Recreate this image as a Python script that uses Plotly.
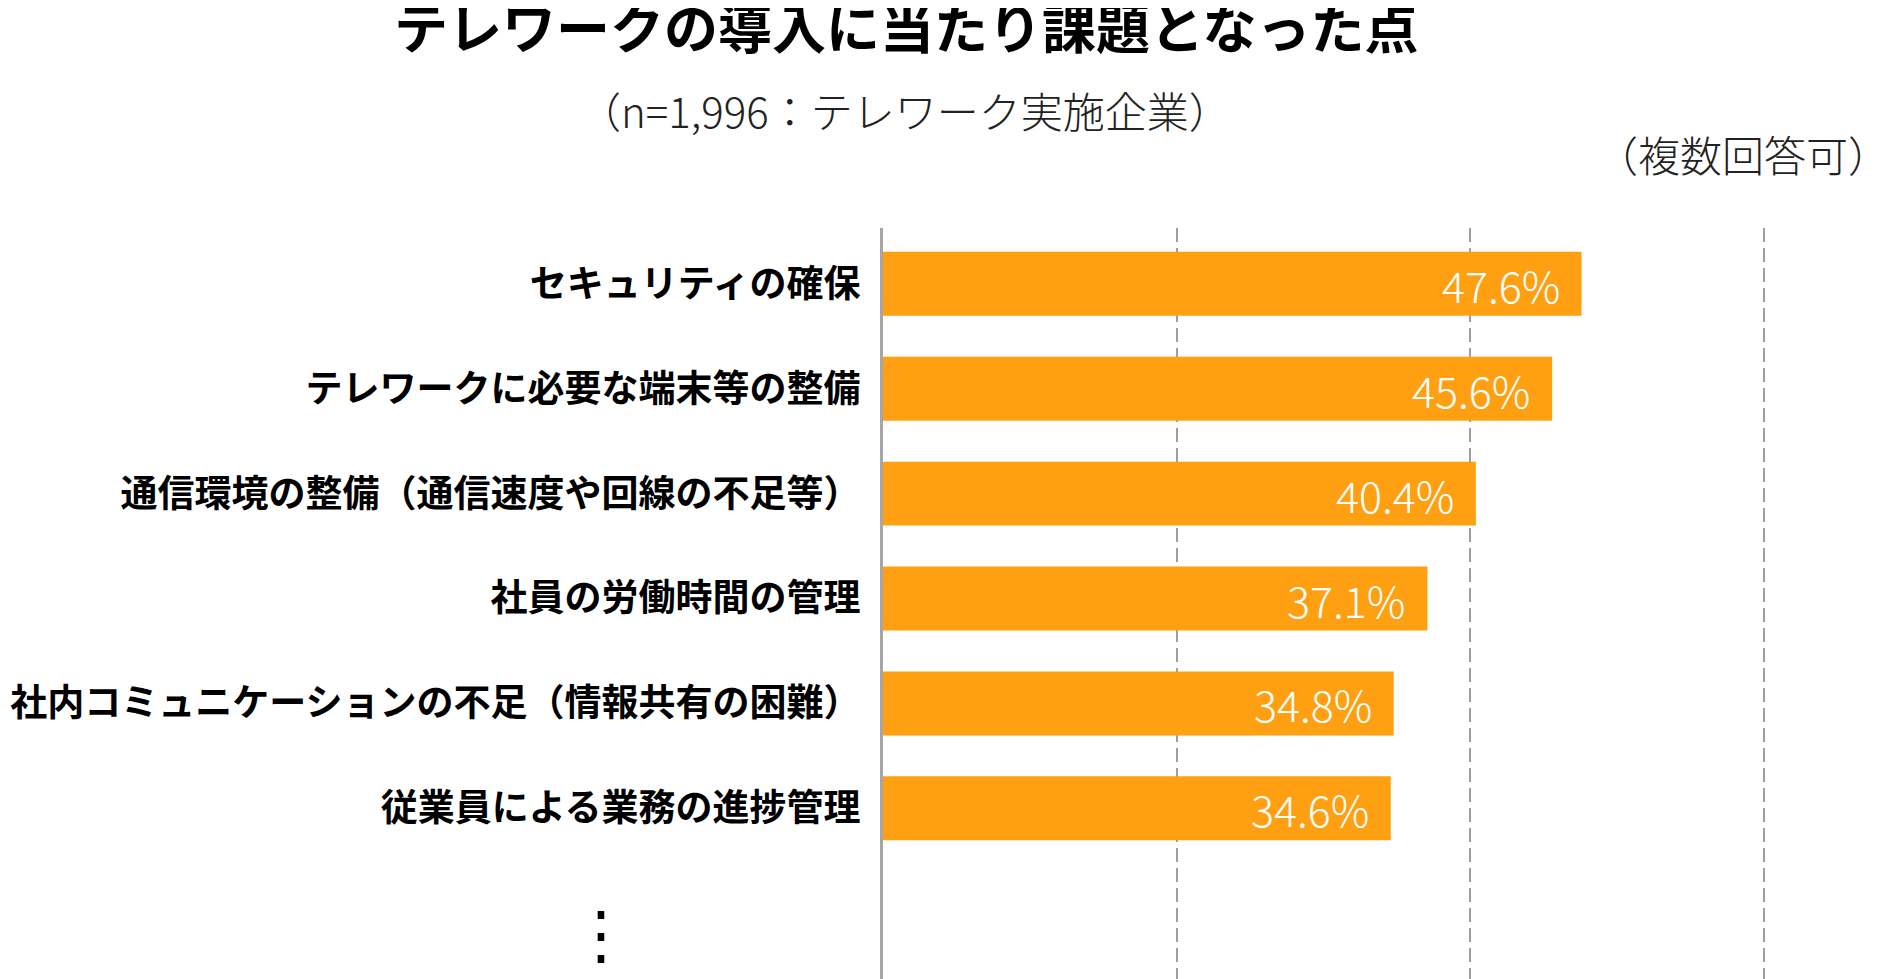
import plotly.graph_objects as go

labels = [
    "セキュリティの確保",
    "テレワークに必要な端末等の整備",
    "通信環境の整備（通信速度や回線の不足等）",
    "社員の労働時間の管理",
    "社内コミュニケーションの不足（情報共有の困難）",
    "従業員による業務の進捗管理",
]
values = [47.6, 45.6, 40.4, 37.1, 34.8, 34.6]
value_text = ["47.6%", "45.6%", "40.4%", "37.1%", "34.8%", "34.6%"]

# page has an 8px body margin, so figure coords are page coords - 8
W, H = 1878, 979
L, T = 875, 220
pw, ph = W - L, H - T


def px(x):
    return (x - L) / pw


def py(y):
    return (H - y) / ph


font = "Noto Sans CJK JP"
pos = list(range(len(labels)))

fig = go.Figure()
fig.add_trace(go.Bar(
    x=values, y=pos, orientation="h", width=0.61,
    marker=dict(color="#fea012", line=dict(width=0)),
    hoverinfo="skip",
))

ann = []
for i, v in enumerate(values):
    ann.append(dict(x=v, y=i, xref="x", yref="y", text=value_text[i], showarrow=False,
                    xanchor="right", yanchor="middle", xshift=-20,
                    font=dict(family=font, size=43, color="white", weight=300)))

ann.append(dict(x=px(898), y=py(18), xref="paper", yref="paper", showarrow=False,
                xanchor="center", yanchor="middle",
                text="<b>テレワークの導入に当たり課題となった点</b>",
                font=dict(family=font, size=54, color="black")))
ann.append(dict(x=px(897), y=py(102), xref="paper", yref="paper", showarrow=False,
                xanchor="center", yanchor="middle",
                text="（n=1,996：テレワーク実施企業）",
                font=dict(family=font, size=42, color="#222", weight=300)))
ann.append(dict(x=1, y=py(146), xref="paper", yref="paper", showarrow=False,
                xanchor="right", yanchor="middle", xshift=6, text="（複数回答可）",
                font=dict(family=font, size=42, color="#222", weight=300)))
ann.append(dict(x=px(593), y=py(921), xref="paper", yref="paper", showarrow=False,
                xanchor="center", yanchor="middle",
                text="⋮", font=dict(family=font, size=64, color="black")))

fig.update_layout(
    width=W, height=H,
    margin=dict(l=L, r=0, t=T, b=0, autoexpand=False),
    paper_bgcolor="white", plot_bgcolor="white",
    showlegend=False,
    annotations=ann,
    xaxis=dict(range=[0, pw / 14.675], tickvals=[20, 40, 60], showticklabels=False,
               showgrid=True, gridcolor="#9e9e9e", gridwidth=1.5, griddash="14px,6px",
               zeroline=False, showline=False, ticks="", automargin=False),
    yaxis=dict(range=[6.703, -0.532], tickvals=pos, ticktext=labels,
               tickfont=dict(family=font, size=37, color="black", weight="bold"),
               showgrid=False, zeroline=False, showline=True,
               linecolor="#a6a6a6", linewidth=3, ticks="", ticklabelstandoff=12,
               automargin=False),
)

fig.write_html("out.html")
